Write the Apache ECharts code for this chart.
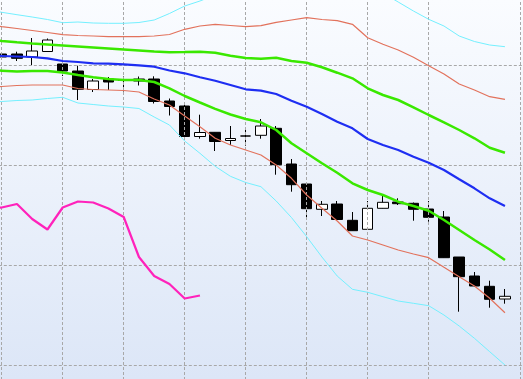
<!DOCTYPE html>
<html>
<head>
<meta charset="utf-8">
<script src="https://cdn.jsdelivr.net/npm/echarts@6/dist/echarts.min.js"></script>
<style>
html,body{margin:0;padding:0;background:#fff;}
#chart{width:523px;height:379px;}
</style>
</head>
<body>
<div id="chart"></div>
<script>
// categories: one before the first visible candle, 34 visible candles, one after
const categories = ['d00','d01','d02','d03','d04','d05','d06','d07','d08','d09','d10','d11','d12','d13','d14','d15','d16','d17','d18','d19','d20','d21','d22','d23','d24','d25','d26','d27','d28','d29','d30','d31','d32','d33','d34','d35'];

// candles: [open, close, low, high]
const candles = [
  '-',
  [141.1, 140.8, 140.6, 141.3],
  [141.1, 140.67, 140.4, 141.33],
  [140.8, 141.4, 140.0, 142.7],
  [141.35, 142.5, 141.3, 142.65],
  [140.1, 139.4, 138.9, 140.35],
  [139.4, 137.57, 136.5, 139.93],
  [137.55, 138.4, 137.3, 138.6],
  [138.6, 138.3, 137.5, 138.8],
  [138.5, 138.45, 137.35, 138.85],
  [138.6, 138.4, 137.95, 138.85],
  [138.6, 136.35, 136.15, 138.87],
  [136.4, 135.85, 134.95, 136.65],
  [135.9, 132.85, 132.6, 136.27],
  [132.85, 133.25, 132.63, 135.03],
  [133.27, 132.35, 131.4, 133.3],
  [132.45, 132.65, 132.0, 133.9],
  [132.9, 132.9, 131.93, 133.6],
  [132.97, 133.9, 132.63, 134.6],
  [133.67, 130.03, 129.03, 133.9],
  [130.1, 128.03, 127.33, 130.6],
  [128.1, 125.63, 124.57, 128.1],
  [125.57, 126.07, 124.9, 126.4],
  [126.1, 124.55, 124.4, 126.4],
  [124.47, 123.43, 123.4, 125.3],
  [123.57, 125.67, 123.55, 126.4],
  [125.67, 126.27, 125.65, 126.93],
  [126.3, 126.13, 126.0, 126.67],
  [126.17, 125.57, 124.43, 126.25],
  [125.6, 124.77, 124.33, 126.4],
  [124.8, 120.73, 120.7, 125.4],
  [120.8, 118.83, 115.33, 120.8],
  [118.9, 117.9, 117.8, 119.3],
  [117.87, 116.57, 115.73, 118.43],
  [116.6, 116.87, 116.13, 117.6],
  '-'
];

const cyanUpper = [145.6,145.27,145.03,144.8,144.55,144.23,144.3,144.2,144.17,144.17,144.25,144.5,145.15,145.9,146.4,147.0,147.5,147.7,147.9,148.0,148.0,147.9,147.8,147.7,147.5,147.3,147.2,146.3,145.4,144.57,143.9,142.9,142.35,142.0,141.83,'-'];
const redUpper = [144.1,143.83,143.65,143.45,143.25,143.03,142.95,142.9,142.83,142.83,142.83,142.9,143.05,143.57,143.9,144.07,143.95,143.83,143.93,144.27,144.5,144.73,144.55,144.43,144.07,142.73,142.07,141.5,140.77,139.93,139.1,138.1,137.5,136.83,136.57,'-'];
const greenUpper = [142.65,142.4,142.27,142.15,142.05,141.95,141.85,141.75,141.65,141.55,141.45,141.35,141.28,141.3,141.33,141.23,140.93,140.7,140.63,140.73,140.4,140.23,139.77,139.23,138.67,137.67,137.0,136.5,135.77,135.0,134.27,133.5,132.67,131.73,131.23,'-'];
const middle = [140.95,140.9,140.85,140.8,140.67,140.4,140.3,140.17,140.13,140.07,139.97,139.83,139.45,139.17,138.77,138.43,138.0,137.57,137.43,137.1,136.43,135.83,135.1,134.33,133.67,132.6,132.0,131.5,130.83,130.23,129.5,128.57,127.67,126.67,125.9,'-'];
const greenLower = [139.5,139.43,139.35,139.4,139.4,139.25,139.0,138.77,138.6,138.5,138.5,138.3,137.67,136.9,136.25,135.62,135.05,134.6,134.27,133.5,132.17,131.17,130.17,129.23,128.17,127.5,127.0,126.33,125.9,125.43,124.5,123.5,122.5,121.55,120.5,'-'];
const redLower = [137.75,137.85,137.95,138.0,138.0,138.0,137.65,137.55,137.5,137.45,137.3,136.6,136.0,134.9,133.83,132.67,132.0,131.5,131.0,130.0,128.67,127.0,125.67,124.4,122.9,122.5,122.0,121.5,121.1,120.73,119.77,118.83,117.9,116.67,115.23,'-'];
const cyanLower = [136.3,136.35,136.45,136.5,136.65,136.77,136.2,136.05,135.9,135.8,135.65,134.8,134.0,132.4,131.17,129.87,128.87,128.25,127.83,126.4,124.75,122.83,120.8,118.9,117.57,117.27,116.83,116.4,116.17,115.93,115.0,113.9,112.67,111.33,110.0,'-'];
const oscillator = [51.2,51.5,52.2,49.2,47.1,51.5,52.7,52.5,51.3,49.6,41.6,37.8,36.2,33.3,33.9,'-','-','-','-','-','-','-','-','-','-','-','-','-','-','-','-','-','-','-','-','-'];

// vertical grid lines at these categories
const gridDates = ['d01','d05','d09','d13','d17','d21','d25','d29','d35'];

const chart = echarts.init(document.getElementById('chart'), null, {renderer:'canvas'});

function band(name, data, color, width) {
  return {
    name: name, type: 'line', data: data, showSymbol: false, symbol: 'none',
    xAxisIndex: 0, yAxisIndex: 0, z: 5, silent: true,
    lineStyle: {color: color, width: width}
  };
}

chart.setOption({
  animation: false,
  backgroundColor: {
    type: 'linear', x: 0, y: 0, x2: 0, y2: 1,
    colorStops: [{offset: 0, color: '#fafcff'}, {offset: 1, color: '#dce6f7'}]
  },
  grid: {left: -21.175, top: -35, width: 549, height: 500, containLabel: false, outerBoundsMode: 'none'},
  xAxis: {
    type: 'category', data: categories, boundaryGap: true,
    axisLine: {show: false}, axisTick: {show: false}, axisLabel: {show: false},
    splitLine: {show: false}
  },
  yAxis: [
    {
      type: 'value', min: 100, max: 150, interval: 10,
      axisLine: {show: false}, axisTick: {show: false}, axisLabel: {show: false},
      splitLine: {show: true, lineStyle: {color: '#a8a8a8', type: [3, 2], width: 1}}
    },
    {
      type: 'value', min: 0, max: 100,
      axisLine: {show: false}, axisTick: {show: false}, axisLabel: {show: false},
      splitLine: {show: false}
    }
  ],
  series: [
    {
      name: 'grid', type: 'line', data: [], z: 1, silent: true,
      markLine: {
        silent: true, symbol: ['none', 'none'], animation: false,
        label: {show: false},
        lineStyle: {color: '#a8a8a8', type: [3, 2], width: 1},
        data: gridDates.map(d => ({xAxis: d}))
      }
    },
    {
      name: 'price', type: 'candlestick', data: candles, barWidth: 11, z: 3,
      itemStyle: {color: '#ffffff', color0: '#000000', borderColor: '#000000', borderColor0: '#000000', borderWidth: 1}
    },
    band('cyanUpper', cyanUpper, '#74f0ff', 1),
    band('cyanLower', cyanLower, '#74f0ff', 1),
    band('redUpper', redUpper, '#e2725c', 1.2),
    band('redLower', redLower, '#e2725c', 1.2),
    band('greenUpper', greenUpper, '#3ae800', 2.5),
    band('greenLower', greenLower, '#3ae800', 2.5),
    band('middle', middle, '#1e2ef2', 2.2),
    {
      name: 'oscillator', type: 'line', data: oscillator, yAxisIndex: 1, showSymbol: false, symbol: 'none', z: 6,
      lineStyle: {color: '#ff22bb', width: 2.2}
    }
  ]
});
</script>
</body>
</html>
